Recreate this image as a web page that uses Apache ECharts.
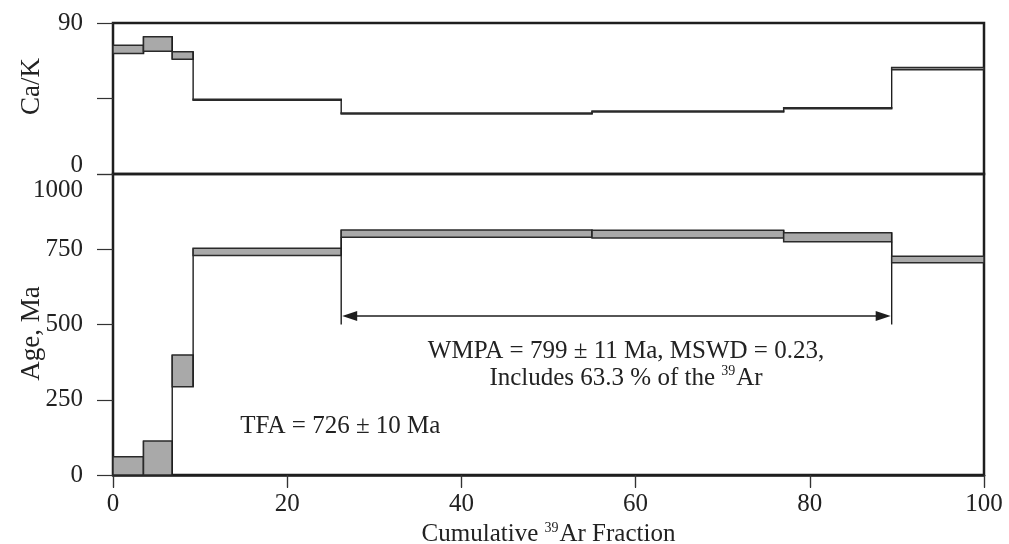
<!DOCTYPE html>
<html>
<head>
<meta charset="utf-8">
<title>Age spectrum</title>
<script src="https://cdn.jsdelivr.net/npm/echarts@6/dist/echarts.min.js"></script>
<style>
  html, body { margin: 0; padding: 0; background: #ffffff; }
  #chart { width: 1009px; height: 544px; }
</style>
</head>
<body>
<div id="chart"></div>
<script>
// Step boundaries: cumulative 39Ar released (%)
const fractionEdges = [0, 3.5, 6.8, 9.2, 26.2, 55.0, 77.0, 89.4, 100];
// Ca/K ratio of each heating step and its uncertainty
const caK = [74.3, 77.5, 70.6, 44.2, 36.0, 37.2, 39.2, 62.8];
const caKErr = [2.5, 4.3, 2.2, 0.3, 0.3, 0.3, 0.3, 0.7];
// Apparent age (Ma) of each step and its uncertainty
const ages = [20, 50, 346, 741, 802, 800, 790, 716];
const ageErr = [41, 63, 53, 12, 12, 13, 15, 11];
// Axis ticks
const fractionTicks = [0, 20, 40, 60, 80, 100];
const caKTicks = [0, 45, 90];
const ageTicks = [0, 250, 500, 750, 1000];
// Plateau steps (first and last index) and where its bracket is drawn (Ma)
const plateauFirst = 4;
const plateauLast = 6;
const plateauArrowAge = 528;
const plateauBaseAge = 500;
// Annotations
const plateauText = 'WMPA = 799 ± 11 Ma, MSWD = 0.23,\nIncludes 63.3 % of the {sup|39}Ar';
const totalFusionText = 'TFA = 726 ± 10 Ma';

const FONT = '"Liberation Serif", "Times New Roman", serif';
const INK = '#1e1e1e';
const BOX_FILL = '#a9a9a9';

function stepData(values, errs) {
  return values.map((v, i) => {
    const prev = i > 0 ? i - 1 : i;
    return [fractionEdges[i], fractionEdges[i + 1], v - errs[i], v + errs[i],
            values[prev] - errs[prev], values[prev] + errs[prev], i];
  });
}

// One box per heating step, plus the vertical riser joining it to the previous step
function renderStep(params, api) {
  const cs = params.coordSys;
  const x0 = api.value(0), x1 = api.value(1);
  const lo = api.value(2), hi = api.value(3);
  const pLo = api.value(4), pHi = api.value(5);
  const idx = api.value(6);
  const a = api.coord([x0, hi]);
  const b = api.coord([x1, lo]);
  const children = [];
  const rect = echarts.graphic.clipRectByRect(
    { x: a[0], y: a[1], width: b[0] - a[0], height: Math.max(b[1] - a[1], 0.6) },
    { x: cs.x, y: cs.y, width: cs.width, height: cs.height }
  );
  if (idx > 0) {
    const top = api.coord([x0, Math.max(hi, pHi)])[1];
    const bot = api.coord([x0, Math.min(lo, pLo)])[1];
    const yt = Math.max(top, cs.y), yb = Math.min(bot, cs.y + cs.height);
    children.push({
      type: 'line',
      shape: { x1: a[0], y1: yt, x2: a[0], y2: yb },
      style: { stroke: INK, lineWidth: 1.4 }
    });
  }
  if (rect) {
    children.push({
      type: 'rect',
      shape: rect,
      style: { fill: BOX_FILL, stroke: '#2a2a2a', lineWidth: 1.5 }
    });
  }
  return { type: 'group', children: children };
}

// Bracket with double arrow spanning the plateau steps
function renderPlateau(params, api) {
  const x0 = api.value(0), x1 = api.value(1);
  const yArrow = api.coord([x0, api.value(2)])[1];
  const yBase = api.coord([x0, api.value(3)])[1];
  const yL = api.coord([x0, api.value(4)])[1];
  const yR = api.coord([x1, api.value(5)])[1];
  const xl = api.coord([x0, 0])[0];
  const xr = api.coord([x1, 0])[0];
  const head = 16, half = 5;
  const st = { stroke: INK, lineWidth: 1.4 };
  return {
    type: 'group',
    children: [
      { type: 'line', shape: { x1: xl, y1: yL, x2: xl, y2: yBase }, style: st },
      { type: 'line', shape: { x1: xr, y1: yR, x2: xr, y2: yBase }, style: st },
      { type: 'line', shape: { x1: xl + 4, y1: yArrow, x2: xr - 4, y2: yArrow }, style: st },
      { type: 'polygon', shape: { points: [[xl + 1, yArrow], [xl + head, yArrow - half], [xl + head, yArrow + half]] }, style: { fill: INK } },
      { type: 'polygon', shape: { points: [[xr - 1, yArrow], [xr - head, yArrow - half], [xr - head, yArrow + half]] }, style: { fill: INK } }
    ]
  };
}

function renderNote(params, api) {
  const p = api.coord([api.value(0), api.value(1)]);
  const note = notes[params.dataIndex];
  return {
    type: 'text',
    x: p[0],
    y: p[1],
    style: {
      text: note.text,
      fontFamily: FONT,
      fontSize: 25,
      fill: '#222',
      align: note.align,
      verticalAlign: 'middle',
      lineHeight: 27,
      rich: {
        sup: { fontFamily: FONT, fontSize: 14, fill: '#222', verticalAlign: 'top', lineHeight: 27, padding: [0, 1, 0, 0] }
      }
    }
  };
}

const notes = [
  { at: [58.9, 367], text: plateauText, align: 'center' },
  { at: [14.6, 160], text: totalFusionText, align: 'left' }
];

const chart = echarts.init(document.getElementById('chart'), null, { renderer: 'canvas' });

const labelStyle = { fontFamily: FONT, fontSize: 25, color: '#222' };

chart.setOption({
  animation: false,
  backgroundColor: '#ffffff',
  grid: [
    { left: 113, right: 25, top: 23, height: 151, containLabel: false, outerBoundsMode: 'none',
      show: true, borderColor: INK, borderWidth: 2.5, backgroundColor: 'transparent' },
    { left: 113, right: 25, top: 174, height: 301, containLabel: false, outerBoundsMode: 'none',
      show: true, borderColor: INK, borderWidth: 2.5, backgroundColor: 'transparent' }
  ],
  xAxis: [
    {
      gridIndex: 0, type: 'value', min: fractionTicks[0], max: fractionTicks[fractionTicks.length - 1], interval: 20,
      axisLine: { show: false }, axisTick: { show: false }, axisLabel: { show: false }, splitLine: { show: false }
    },
    {
      gridIndex: 1, type: 'value', position: 'bottom',
      min: fractionTicks[0], max: fractionTicks[fractionTicks.length - 1], interval: 20,
      axisLine: { show: true, onZero: false, lineStyle: { color: INK, width: 2.5 } },
      axisTick: { show: true, inside: false, length: 12, lineStyle: { color: '#333', width: 1.2 } },
      axisLabel: Object.assign({ margin: 17 }, labelStyle),
      splitLine: { show: false },
      name: 'Cumulative {sup|39}Ar Fraction',
      nameLocation: 'middle',
      nameGap: 46,
      nameMoveOverlap: false,
      nameTextStyle: {
        fontFamily: FONT, fontSize: 25, color: '#222', lineHeight: 27,
        rich: {
          sup: { fontFamily: FONT, fontSize: 14, color: '#222', verticalAlign: 'top', lineHeight: 27, padding: [0, 1, 0, 0] }
        }
      }
    },
    {
      gridIndex: 1, type: 'value', position: 'top',
      min: fractionTicks[0], max: fractionTicks[fractionTicks.length - 1], interval: 20,
      axisLine: { show: false },
      axisTick: { show: true, inside: true, length: 13, lineStyle: { color: '#333', width: 1.2 } },
      axisLabel: { show: false }, splitLine: { show: false }
    }
  ],
  yAxis: [
    {
      gridIndex: 0, type: 'value', min: caKTicks[0], max: caKTicks[caKTicks.length - 1], interval: 45,
      axisLine: { show: false },
      axisTick: { show: true, inside: false, length: 16, lineStyle: { color: '#333', width: 1.2 } },
      axisLabel: Object.assign({
        margin: 30,
        formatter: v => v === caKTicks[1] ? '' : (v === caKTicks[0] ? '{low|' + v + '}' : String(v)),
        rich: { low: { fontFamily: FONT, fontSize: 25, color: '#222', padding: [0, 0, 18, 0] } }
      }, labelStyle),
      splitLine: { show: false },
      name: 'Ca/K', nameLocation: 'middle', nameGap: 68, nameMoveOverlap: false,
      nameTextStyle: { fontFamily: FONT, fontSize: 27, color: '#222', padding: [0, 0, 0, 24] }
    },
    {
      gridIndex: 1, type: 'value', min: ageTicks[0], max: ageTicks[ageTicks.length - 1], interval: 250,
      axisLine: { show: false },
      axisTick: { show: true, inside: false, length: 16, lineStyle: { color: '#333', width: 1.2 } },
      axisLabel: Object.assign({
        margin: 30,
        formatter: v => v === ageTicks[ageTicks.length - 1] ? '{high|' + v + '}' : String(v),
        rich: { high: { fontFamily: FONT, fontSize: 25, color: '#222', padding: [33, 0, 0, 0] } }
      }, labelStyle),
      splitLine: { show: false },
      name: 'Age, Ma', nameLocation: 'middle', nameGap: 68, nameMoveOverlap: false,
      nameTextStyle: { fontFamily: FONT, fontSize: 27, color: '#222', padding: [0, 18, 0, 0] }
    }
  ],
  series: [
    {
      name: 'Ca/K', type: 'custom', xAxisIndex: 0, yAxisIndex: 0,
      renderItem: renderStep, data: stepData(caK, caKErr), silent: true
    },
    {
      name: 'Age', type: 'custom', xAxisIndex: 1, yAxisIndex: 1,
      renderItem: renderStep, data: stepData(ages, ageErr), silent: true, z: 3
    },
    {
      name: 'Plateau', type: 'custom', xAxisIndex: 1, yAxisIndex: 1, silent: true, z: 2,
      renderItem: renderPlateau,
      data: [[fractionEdges[plateauFirst], fractionEdges[plateauLast + 1], plateauArrowAge, plateauBaseAge,
              ages[plateauFirst] - ageErr[plateauFirst], ages[plateauLast] - ageErr[plateauLast]]]
    },
    {
      name: 'Notes', type: 'custom', xAxisIndex: 1, yAxisIndex: 1, silent: true, z: 4,
      renderItem: renderNote,
      data: notes.map(n => n.at)
    }
  ]
});
</script>
</body>
</html>
